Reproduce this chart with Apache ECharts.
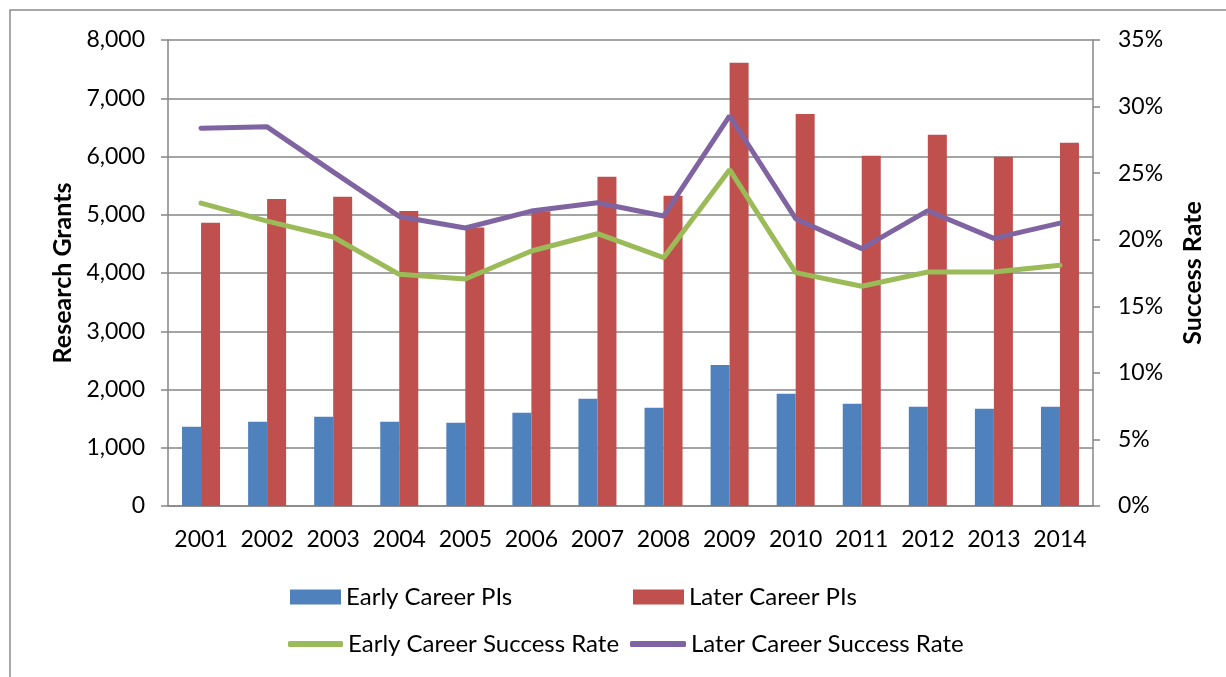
<!DOCTYPE html>
<html>
<head>
<meta charset="utf-8">
<title>Research Grants</title>
<script src="https://cdn.jsdelivr.net/npm/echarts@6/dist/echarts.min.js"></script>
<style>
    body { margin: 0; background: #fff; }
    .chart { width: 1226px; height: 677px; }
</style>
</head>
<body>
<div class="chart" id="chart01"></div>
<script>
    // values
    var years = ['2001', '2002', '2003', '2004', '2005', '2006', '2007',
        '2008', '2009', '2010', '2011', '2012', '2013', '2014'];
    var earlyPIs = [1361, 1447, 1533, 1447, 1430, 1602, 1842, 1688, 2421, 1928, 1756, 1705, 1670, 1705];
    var laterPIs = [4864, 5270, 5310, 5064, 4780, 5060, 5653, 5327, 7611, 6730, 6014, 6375, 5997, 6237];
    var earlyRate = [22.75, 21.4, 20.2, 17.4, 17.05, 19.15, 20.45, 18.65, 25.26, 17.53, 16.5, 17.58, 17.58, 18.08];
    var laterRate = [28.38, 28.48, 25.1, 21.75, 20.88, 22.15, 22.78, 21.78, 29.31, 21.58, 19.33, 22.18, 20.1, 21.25];
    var leftTicks = [0, 8000, 1000];
    var rightTicks = [0, 35, 5];

    var font = 'Lato';
    var gray = '#868686';

    var myChart = echarts.init(document.getElementById('chart01'));
    var option;

    function legendAt(name, icon, left, top, w, h) {
        return {
            data: [{name: name, icon: icon}],
            left: left,
            top: top,
            padding: 0,
            itemWidth: w,
            itemHeight: h,
            selectedMode: false,
            textStyle: {fontFamily: font, fontSize: 24, color: '#000'}
        };
    }

    option = {
        animation: false,
        backgroundColor: '#fff',
        graphic: [{
            type: 'rect',
            shape: {x: 10, y: 10, width: 1400, height: 1000},
            style: {fill: 'none', stroke: '#8c8c8c', lineWidth: 1.5},
            silent: true
        }],
        grid: {left: 168, right: 133, top: 40, bottom: 171},
        legend: [
            legendAt('Early Career PIs', 'rect', 290, 585, 51, 15),
            legendAt('Later Career PIs', 'rect', 633, 585, 51, 15),
            legendAt('Early Career Success Rate', 'roundRect', 288, 632, 55, 6),
            legendAt('Later Career Success Rate', 'roundRect', 630, 632, 56, 6)
        ],
        xAxis: {
            type: 'category',
            data: years,
            axisLine: {lineStyle: {color: gray, width: 1.5}},
            axisTick: {length: 8, lineStyle: {color: gray, width: 1.5}},
            axisLabel: {interval: 0, fontFamily: font, fontSize: 23, color: '#000', margin: 22}
        },
        yAxis: [
            {
                type: 'value',
                min: leftTicks[0],
                max: leftTicks[1],
                interval: leftTicks[2],
                name: 'Research Grants',
                nameLocation: 'middle',
                nameRotate: 90,
                nameGap: 91,
                nameTextStyle: {fontFamily: font, fontSize: 25, fontWeight: 'bold', color: '#000'},
                axisLine: {show: true, lineStyle: {color: gray, width: 1.5}},
                axisTick: {show: true, length: 7, lineStyle: {color: gray, width: 1.5}},
                axisLabel: {
                    fontFamily: font, fontSize: 23, color: '#000', margin: 23,
                    formatter: function (v) { return v.toLocaleString('en-US'); }
                },
                splitLine: {lineStyle: {color: gray, width: 1.5}}
            },
            {
                type: 'value',
                min: rightTicks[0],
                max: rightTicks[1],
                interval: rightTicks[2],
                name: 'Success Rate',
                nameLocation: 'middle',
                nameRotate: 90,
                nameGap: 87,
                nameTextStyle: {fontFamily: font, fontSize: 25, fontWeight: 'bold', color: '#000'},
                axisLine: {show: true, lineStyle: {color: gray, width: 1.5}},
                axisTick: {show: true, length: 7, lineStyle: {color: gray, width: 1.5}},
                axisLabel: {fontFamily: font, fontSize: 23, color: '#000', margin: 25, formatter: '{value}%'},
                splitLine: {show: false}
            }
        ],
        series: [
            {
                name: 'Early Career PIs',
                type: 'bar',
                barWidth: 19,
                barGap: '0%',
                itemStyle: {color: '#4F81BD'},
                data: earlyPIs
            },
            {
                name: 'Later Career PIs',
                type: 'bar',
                barWidth: 19,
                barGap: '0%',
                itemStyle: {color: '#C0504D'},
                data: laterPIs
            },
            {
                name: 'Early Career Success Rate',
                type: 'line',
                yAxisIndex: 1,
                symbol: 'none',
                lineStyle: {color: '#9BBB59', width: 5, cap: 'round'},
                itemStyle: {color: '#9BBB59'},
                z: 5,
                data: earlyRate
            },
            {
                name: 'Later Career Success Rate',
                type: 'line',
                yAxisIndex: 1,
                symbol: 'none',
                lineStyle: {color: '#8064A2', width: 5, cap: 'round'},
                itemStyle: {color: '#8064A2'},
                z: 6,
                data: laterRate
            }
        ]
    };

    option && myChart.setOption(option);
</script>
</body>
</html>
